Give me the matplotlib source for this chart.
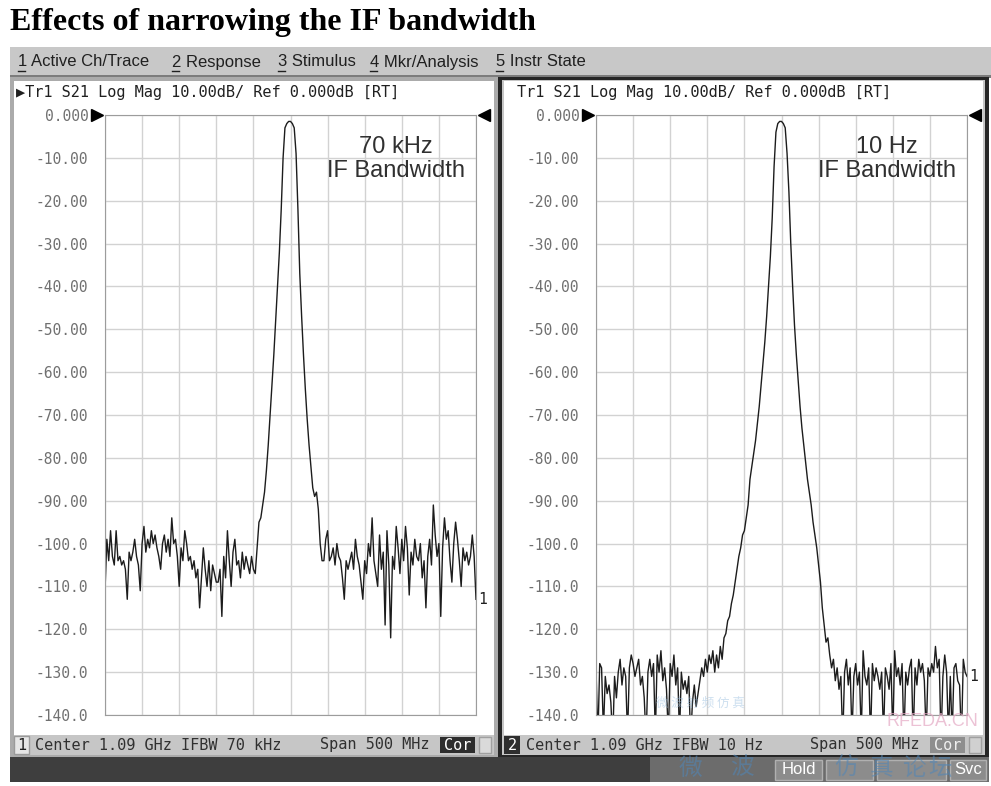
import numpy as np
import matplotlib
matplotlib.use("Agg")
import matplotlib.pyplot as plt
from matplotlib.patches import Rectangle
from matplotlib.lines import Line2D
from matplotlib.transforms import blended_transform_factory
from matplotlib import font_manager

# sweep settings (Center 1.09 GHz, Span 500 MHz, 201 points)
CENTER_MHZ = 1090
SPAN_MHZ = 500
POINTS = 201
freq_mhz = np.linspace(CENTER_MHZ - SPAN_MHZ / 2, CENTER_MHZ + SPAN_MHZ / 2, POINTS)

# S21 log mag, IFBW 70 kHz
trace_70khz = [
    -111, -99, -104, -97, -103, -105, -97, -104, -103, -105,
    -104, -106, -113, -102, -104, -102, -99, -103, -105, -111,
    -100, -96, -102, -99, -101, -97, -100, -98, -101, -103,
    -106, -100, -98, -102, -99, -103, -94, -100, -99, -103,
    -110, -101, -104, -97, -100, -104, -103, -106, -104, -108,
    -106, -115, -108, -101, -106, -110, -104, -111, -105, -107,
    -109, -109, -106, -117, -103, -108, -97, -104, -110, -102,
    -99, -105, -104, -108, -102, -106, -103, -105, -107, -103,
    -106, -107, -101, -95, -94, -91, -88, -83, -77, -70,
    -63, -56, -48, -40, -32, -22, -10, -3, -2, -1.5,
    -1.5, -2, -3, -9, -22, -37, -47, -56, -64, -71,
    -77, -82, -87, -89, -88, -92, -100, -104, -104, -99,
    -97, -104, -103, -101, -105, -100, -103, -104, -108, -113,
    -104, -106, -104, -102, -106, -99, -103, -105, -109, -113,
    -104, -107, -100, -103, -94, -104, -107, -110, -98, -106,
    -102, -119, -97, -105, -122, -103, -106, -96, -101, -107,
    -99, -104, -96, -101, -112, -102, -105, -99, -103, -104,
    -100, -108, -104, -115, -103, -99, -105, -91, -98, -103,
    -100, -117, -101, -94, -99, -97, -104, -109, -100, -95,
    -99, -104, -110, -101, -104, -102, -105, -103, -98, -103,
    -113,
]

# S21 log mag, IFBW 10 Hz (values below -140 run off the screen)
trace_10hz = [
    -129, -146, -128, -129, -144, -131, -135, -133, -137, -146,
    -131, -136, -130, -127, -133, -129, -131, -145, -129, -126,
    -128, -131, -129, -127, -133, -131, -136, -146, -130, -127,
    -131, -128, -145, -126, -130, -125, -132, -129, -134, -145,
    -128, -131, -126, -133, -129, -145, -130, -134, -132, -135,
    -131, -146, -137, -133, -138, -135, -132, -129, -131, -127,
    -130, -126, -128, -125, -130, -126, -129, -124, -127, -122,
    -121, -118, -117, -114, -112, -109, -106, -103, -101, -98,
    -97, -94, -91, -85, -82, -79, -76, -72, -68, -63,
    -58, -53, -47, -40, -33, -24, -12, -4, -2, -1.5,
    -1.5, -2, -3, -9, -18, -30, -40, -49, -56, -62,
    -68, -73, -77, -81, -85, -88, -91, -95, -98, -101,
    -105, -109, -115, -119, -123, -122, -126, -129, -127, -132,
    -129, -134, -131, -146, -130, -127, -133, -129, -145, -131,
    -128, -133, -130, -145, -125, -131, -133, -129, -146, -128,
    -132, -129, -131, -134, -130, -145, -129, -131, -134, -128,
    -145, -125, -131, -129, -133, -128, -146, -130, -133, -129,
    -127, -146, -129, -133, -127, -130, -128, -132, -145, -129,
    -131, -128, -130, -124, -129, -127, -146, -131, -126, -130,
    -145, -131, -145, -129, -128, -132, -133, -146, -127, -130,
    -131,
]

y_ticks = [0, -10, -20, -30, -40, -50, -60, -70, -80, -90,
           -100, -110, -120, -130, -140]
y_tick_labels = ["0.000", "-10.00", "-20.00", "-30.00", "-40.00", "-50.00",
                 "-60.00", "-70.00", "-80.00", "-90.00", "-100.0", "-110.0",
                 "-120.0", "-130.0", "-140.0"]

menu_items = ["1 Active Ch/Trace", "2 Response", "3 Stimulus",
              "4 Mkr/Analysis", "5 Instr State"]
menu_x = [18, 172, 278, 370, 496]

header_left = "\u25b6Tr1 S21 Log Mag 10.00dB/ Ref 0.000dB [RT]"
header_right = "Tr1 S21 Log Mag 10.00dB/ Ref 0.000dB [RT]"
ifbw_notes = ["70 kHz\nIF Bandwidth", "10 Hz\nIF Bandwidth"]
status_left = "Center 1.09 GHz IFBW 70 kHz"
status_right = "Center 1.09 GHz IFBW 10 Hz"
span_text = "Span 500 MHz"
watermark_chars = ["微", "波", "仿", "真", "论", "坛"]
watermark_x = [690, 742, 846, 881, 914, 940]

W, H = 991, 786
MONO = "DejaVu Sans Mono"
names = {f.name for f in font_manager.fontManager.ttflist}
if "Liberation Sans Narrow" in names:
    menu_font, menu_size = "Liberation Sans Narrow", 14
else:
    menu_font, menu_size = "Liberation Sans", 12

fig = plt.figure(figsize=(W / 100, H / 100), dpi=100)


def rect(x0, y0, x1, y1, color, edge="none", z=-1, lw=1):
    fig.add_artist(Rectangle((x0 / W, 1 - y1 / H), (x1 - x0) / W, (y1 - y0) / H,
                             transform=fig.transFigure, facecolor=color,
                             edgecolor=edge, lw=lw, zorder=z))


def text(x, y, s, **kw):
    return fig.text(x / W, 1 - y / H, s, **kw)


# title
text(10, 30, "Effects of narrowing the IF bandwidth", family="Liberation Serif",
     weight="bold", fontsize=23, va="baseline", ha="left")

# menu bar
rect(10, 47, 991, 76, "#c8c8c8")
rect(10, 75, 991, 78, "#7c7c7c")
for item, x in zip(menu_items, menu_x):
    text(x, 62, item, family=menu_font, fontsize=menu_size, va="center",
         color="#202020")
    fig.add_artist(Line2D([x / W, (x + 7) / W], [1 - 71 / H, 1 - 71 / H],
                          transform=fig.transFigure, color="#202020", lw=1))

# panel frames
rect(10, 77, 499, 757, "#ababab")
rect(14, 81, 494, 735, "white")
rect(498, 77, 989, 757, "#262626")
rect(502, 80, 985, 755, "#c6c6c6")
rect(504, 81, 983, 735, "white")

# status bars
rect(14, 735, 494, 755, "#c6c6c6")
rect(14, 736, 29, 754, "#e6e6e6", edge="#9a9a9a", z=-0.5)
text(21.5, 745, "1", family=MONO, fontsize=11, ha="center", va="center", color="#202020")
text(35, 745, status_left, family=MONO, fontsize=11, va="center", color="#303030")
text(320, 745, span_text, family=MONO, fontsize=11, va="center", color="#303030")
rect(440, 737, 475, 753, "#2e2e2e", z=-0.5)
text(457.5, 745, "Cor", family=MONO, fontsize=11, ha="center", va="center", color="white")
rect(479, 737, 491, 753, "#dadada", edge="#a0a0a0", z=-0.5)

rect(504, 736, 520, 754, "#2e2e2e", z=-0.5)
text(512, 745, "2", family=MONO, fontsize=11, ha="center", va="center", color="white")
text(526, 745, status_right, family=MONO, fontsize=11, va="center", color="#303030")
text(810, 745, span_text, family=MONO, fontsize=11, va="center", color="#303030")
rect(930, 737, 965, 753, "#8e8e8e", z=-0.5)
text(947.5, 745, "Cor", family=MONO, fontsize=11, ha="center", va="center", color="#f0f0f0")
rect(969, 737, 981, 753, "#d0d0d0", edge="#a0a0a0", z=-0.5)

# bottom soft-key bar
rect(10, 757, 989, 782, "#3e3e3e")
rect(650, 757, 989, 782, "#6c6c6c")
for x0, x1, label in [(775, 822, "Hold"), (826, 873, ""), (877, 946, ""), (950, 986, "Svc")]:
    rect(x0, 760, x1, 780, "#8c8c8c", edge="#b0b0b0", z=-0.5)
    if label:
        text((x0 + x1) / 2, 770, label, family=menu_font, fontsize=menu_size,
             ha="center", va="center", color="white")

# watermark
for ch, x in zip(watermark_chars, watermark_x):
    text(x, 768, ch, family=["Noto Sans CJK SC", "DejaVu Sans"], fontsize=17,
         ha="center", va="center", color="#4f86b8", alpha=0.55)
text(932, 722, "RFEDA.CN", family="Liberation Sans", fontsize=13, ha="center",
     va="center", color="#e4a9c4", alpha=0.7)
text(700, 703, "微 波 射 频 仿 真", family=["Noto Sans CJK SC", "DejaVu Sans"],
     fontsize=9, ha="center", va="center", color="#9cc0e0", alpha=0.5)

# the two traces
panels = [
    (105, trace_70khz, header_left, 16, ifbw_notes[0], 396),
    (596, trace_10hz, header_right, 517, ifbw_notes[1], 887),
]
for left_px, trace, header, head_x, note, note_x in panels:
    ax = fig.add_axes([left_px / W, 1 - 715 / H, 371 / W, 600 / H])
    ax.plot(freq_mhz, trace, color="#1c1c1c", lw=1.0)
    ax.set_xlim(freq_mhz[0], freq_mhz[-1])
    ax.set_ylim(-140, 0)
    ax.set_xticks(np.linspace(freq_mhz[0], freq_mhz[-1], 11))
    ax.set_xticklabels([])
    ax.set_yticks(y_ticks)
    ax.set_yticklabels(y_tick_labels, family=MONO, fontsize=10.5, color="#707070")
    ax.tick_params(length=0, pad=12)
    ax.grid(color="#d2d2d2", lw=1)
    for sp in ax.spines.values():
        sp.set_color("#9c9c9c")

    blend = blended_transform_factory(ax.transAxes, ax.transData)
    ax.plot([-0.022], [0], marker=">", ms=9, color="black", transform=blend, clip_on=False)
    ax.plot([1.022], [0], marker="<", ms=9, color="black", transform=blend, clip_on=False)
    ax.text(1.006, trace[-1], "1", transform=blend, family=MONO, fontsize=10.5,
            va="center", ha="left", color="#202020")

    text(head_x, 93, header, family=[MONO, "DejaVu Sans"], fontsize=11,
         va="center", color="#202020")
    text(note_x, 159, note, family="Liberation Sans", fontsize=17, ha="center",
         va="center", color="#303030", linespacing=1.15)

fig.savefig("out.png", dpi=100)
